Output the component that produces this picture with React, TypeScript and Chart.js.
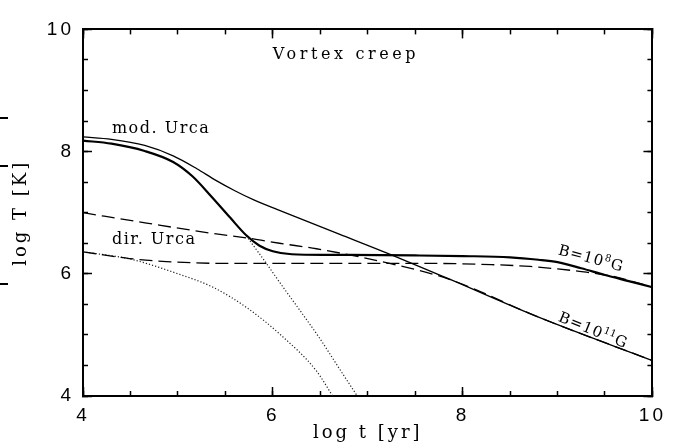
import React, { useEffect, useRef } from 'react';
import { Chart, registerables } from 'chart.js';

Chart.register(...registerables);

const SERIF = '"DejaVu Serif", serif';
const SANS = '"Liberation Sans", Arial, sans-serif';

// modified Urca, B = 10^11 G (thin solid)
const modB11Age = [4, 4.3, 4.65, 4.95, 5.2, 5.4, 5.6, 5.8, 6.05, 6.7, 7.25, 7.85, 8.8, 10];
const modB11Temp = [8.24, 8.2, 8.1, 7.93, 7.72, 7.53, 7.36, 7.21, 7.05, 6.65, 6.31, 5.92, 5.29, 4.58];
// modified Urca, B = 10^8 G (thick solid)
const modB8Age = [4, 4.3, 4.65, 4.95, 5.15, 5.35, 5.55, 5.72, 5.86, 6.0, 6.2, 6.6, 7.5, 8.0, 8.5, 8.8, 9.0, 9.25, 9.5, 9.75, 10];
const modB8Temp = [8.18, 8.13, 8.01, 7.83, 7.6, 7.27, 6.92, 6.63, 6.46, 6.37, 6.32, 6.31, 6.3, 6.29, 6.27, 6.23, 6.19, 6.09, 5.98, 5.88, 5.78];
// modified Urca, no heating (dotted)
const modNoAge = [5.72, 5.9, 6.1, 6.3, 6.5, 6.7, 6.89];
const modNoTemp = [6.62, 6.24, 5.8, 5.37, 4.93, 4.45, 4.0];
// direct Urca, B = 10^11 G (dashed)
const dirB11Age = [4, 4.67, 5.37, 5.76, 6.07, 6.46, 7.23, 7.86, 8.8, 10];
const dirB11Temp = [7.0, 6.83, 6.66, 6.58, 6.5, 6.41, 6.17, 5.91, 5.29, 4.58];
// direct Urca, B = 10^8 G (dashed)
const dirB8Age = [4, 4.49, 4.88, 5.5, 6.5, 7.65, 8.3, 8.71, 9.0, 9.23, 9.58, 10];
const dirB8Temp = [6.36, 6.25, 6.2, 6.17, 6.17, 6.17, 6.15, 6.12, 6.08, 6.04, 5.96, 5.78];
// direct Urca, no heating (dotted)
const dirNoAge = [4, 4.5, 5.0, 5.37, 5.74, 6.09, 6.46, 6.63];
const dirNoTemp = [6.36, 6.24, 6.0, 5.78, 5.43, 4.99, 4.41, 4.0];

// axis ranges / ticks
const X_MIN = 4, X_MAX = 10, X_MAJOR = 2, X_MINOR = 0.5;
const Y_MIN = 4, Y_MAX = 10, Y_MAJOR = 2, Y_MINOR = 0.5;
const X_TITLE = 'log t [yr]';
const Y_TITLE = 'log T [K]';

// text notes (anchored in data coordinates)
const noteTexts = ['Vortex creep', 'mod. Urca', 'dir. Urca'];
const noteAnchors = [[6.0, 9.52], [4.305, 8.3], [4.305, 6.49]];
const fieldLabels = ['8', '11'];
const fieldAnchors = [[9.0, 6.32], [9.0, 5.23]];
const fieldAngles = [15, 22];

const pts = (xs: number[], ys: number[]) => xs.map((x, i) => ({ x, y: ys[i] }));

const notesPlugin = {
  id: 'notes',
  beforeDraw(chart: any) {
    (chart.ctx as any).letterSpacing = '3px';
  },
  afterDraw(chart: any) {
    const ctx = chart.ctx;
    const xs = chart.scales.x;
    const ys = chart.scales.y;
    ctx.save();
    ctx.fillStyle = '#000';
    ctx.textBaseline = 'alphabetic';
    ctx.textAlign = 'left';
    noteTexts.forEach((t, i) => {
      const px = xs.getPixelForValue(noteAnchors[i][0]);
      const py = ys.getPixelForValue(noteAnchors[i][1]);
      ctx.font = `16px ${SERIF}`;
      (ctx as any).letterSpacing = i === 0 ? '3.6px' : '1.5px';
      ctx.fillText(t, px, py);
    });
    fieldLabels.forEach((s, i) => {
      const px = xs.getPixelForValue(fieldAnchors[i][0]);
      const py = ys.getPixelForValue(fieldAnchors[i][1]);
      ctx.save();
      ctx.translate(px, py);
      ctx.rotate((fieldAngles[i] * Math.PI) / 180);
      (ctx as any).letterSpacing = '1px';
      ctx.font = `15px ${SERIF}`;
      ctx.fillText('B=10', 0, 0);
      let w = ctx.measureText('B=10').width;
      ctx.font = `10px ${SERIF}`;
      (ctx as any).letterSpacing = '0px';
      ctx.fillText(s, w, -6);
      w += ctx.measureText(s).width + 1;
      ctx.font = `15px ${SERIF}`;
      (ctx as any).letterSpacing = '1px';
      ctx.fillText('G', w, 0);
      ctx.restore();
    });
    // small marks at the left page edge (present in the scanned figure)
    ctx.fillRect(0, 117, 8, 2);
    ctx.fillRect(0, 165, 8, 2);
    ctx.fillRect(0, 283, 8, 2);
    ctx.restore();
  },
};

const line = (data: any, width: number, dash: number[], color = '#000') => ({
  data,
  borderColor: color,
  borderWidth: width,
  borderDash: dash,
  pointRadius: 0,
  fill: false,
  cubicInterpolationMode: 'monotone' as const,
  xAxisID: 'x',
  yAxisID: 'y',
});

const tickGrid = (len: number) => ({
  display: true,
  drawOnChartArea: false,
  drawTicks: true,
  tickLength: len,
  tickWidth: 1.5,
  tickColor: '#000',
});
const border = { display: true, color: '#000', width: 2 };

export default function App() {
  const ref = useRef<HTMLCanvasElement | null>(null);
  useEffect(() => {
    if (!ref.current) return;
    const chart = new Chart(ref.current, {
      type: 'line',
      data: {
        datasets: [
          line(pts(modB11Age, modB11Temp), 1.3, []),
          line(pts(modB8Age, modB8Temp), 2.2, []),
          line(pts(dirB11Age, dirB11Temp), 1.3, [13, 6]),
          line(pts(dirB8Age, dirB8Temp), 1.3, [13, 6]),
          line(pts(modNoAge, modNoTemp), 1.2, [1.2, 2], '#222'),
          line(pts(dirNoAge, dirNoTemp), 1.2, [1.2, 2], '#222'),
        ],
      },
      options: {
        responsive: false,
        animation: false,
        events: [],
        layout: { padding: { top: 16, right: 27, left: 0, bottom: 0 } },
        plugins: { legend: { display: false }, tooltip: { enabled: false } },
        scales: {
          x: {
            type: 'linear', axis: 'x', position: 'bottom', weight: 1,
            min: X_MIN, max: X_MAX,
            ticks: { stepSize: X_MAJOR, autoSkip: false, maxRotation: 0, color: '#000', font: { family: SANS, size: 19 }, padding: 17 },
            grid: tickGrid(-9), border,
            title: { display: true, text: X_TITLE, color: '#000', font: { family: SERIF, size: 18 }, padding: { top: 0, bottom: 1 } },
            afterFit: (s: any) => { s.height = 49; },
          },
          xm: {
            type: 'linear', axis: 'x', position: 'bottom', weight: 0,
            min: X_MIN, max: X_MAX,
            ticks: { stepSize: X_MINOR, autoSkip: false, display: false },
            grid: tickGrid(-5), border,
            afterFit: (s: any) => { s.height = 0; },
          },
          xt: {
            type: 'linear', axis: 'x', position: 'top', weight: 1,
            min: X_MIN, max: X_MAX,
            ticks: { stepSize: X_MAJOR, autoSkip: false, display: false },
            grid: tickGrid(-9), border,
            afterFit: (s: any) => { s.height = 0; },
          },
          xtm: {
            type: 'linear', axis: 'x', position: 'top', weight: 0,
            min: X_MIN, max: X_MAX,
            ticks: { stepSize: X_MINOR, autoSkip: false, display: false },
            grid: tickGrid(-5), border,
            afterFit: (s: any) => { s.height = 0; },
          },
          y: {
            type: 'linear', axis: 'y', position: 'left', weight: 1,
            min: Y_MIN, max: Y_MAX,
            ticks: { stepSize: Y_MAJOR, autoSkip: false, color: '#000', font: { family: SANS, size: 19 }, padding: 18 },
            grid: tickGrid(-9), border,
            title: { display: true, text: Y_TITLE, color: '#000', font: { family: SERIF, size: 18 }, padding: { top: 11, bottom: 0 } },
            afterFit: (s: any) => { s.width = 83; },
          },
          ym: {
            type: 'linear', axis: 'y', position: 'left', weight: 0,
            min: Y_MIN, max: Y_MAX,
            ticks: { stepSize: Y_MINOR, autoSkip: false, display: false },
            grid: tickGrid(-5), border,
            afterFit: (s: any) => { s.width = 0; },
          },
          yr: {
            type: 'linear', axis: 'y', position: 'right', weight: 1,
            min: Y_MIN, max: Y_MAX,
            ticks: { stepSize: Y_MAJOR, autoSkip: false, display: false },
            grid: tickGrid(-9), border,
            afterFit: (s: any) => { s.width = 0; },
          },
          yrm: {
            type: 'linear', axis: 'y', position: 'right', weight: 0,
            min: Y_MIN, max: Y_MAX,
            ticks: { stepSize: Y_MINOR, autoSkip: false, display: false },
            grid: tickGrid(-5), border,
            afterFit: (s: any) => { s.width = 0; },
          },
        },
      } as any,
      plugins: [notesPlugin],
    });
    return () => chart.destroy();
  }, []);
  return (
    <div style={{ position: 'absolute', left: 0, top: 0, width: 680, height: 445, background: '#fff' }}>
      <canvas ref={ref} width={680} height={445} style={{ display: 'block' }} />
    </div>
  );
}
